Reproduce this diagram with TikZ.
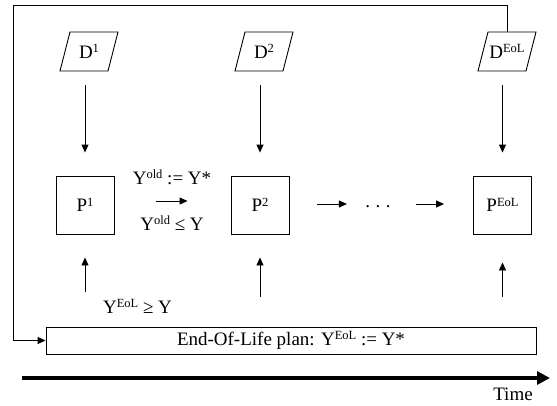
\documentclass[tikz,border=0pt]{standalone}
\usepackage{fontspec}
\setmainfont{Liberation Serif}
\usetikzlibrary{arrows.meta,calc}
\newcommand\supx[1]{\raisebox{5.5pt}{\fontsize{12.5}{13}\selectfont #1}}
\begin{document}
\begin{tikzpicture}[x=1pt,y=-1pt,
  font=\fontsize{19}{22}\selectfont,
  line width=0.9pt,
  arr/.style={-{Triangle[length=8pt,width=7pt]}},
  pbox/.style={draw, minimum width=58pt, minimum height=58pt, inner sep=0pt},
  dnode/.style={minimum width=58pt, minimum height=39pt, inner sep=0pt},
  planbox/.style={draw, minimum width=490pt, minimum height=27pt, inner sep=0pt},
  lbl/.style={anchor=base, inner sep=0pt}]
\useasboundingbox (0,0) rectangle (557,405);

\newcommand\dpara[1]{\draw ([shift={(-19,-19.5)}]#1.center) -- ++(48,0) -- ++(-10,39) -- ++(-48,0) -- cycle;}

% data nodes
\node[dnode] (d1) at (89,51.5) {D\supx{1}};
\node[dnode] (d2) at (264,51.5) {D\supx{2}};
\node[dnode] (de) at (507,51.5) {D\supx{EoL}};
\dpara{d1}
\dpara{d2}
\dpara{de}

% planning nodes
\node[pbox] (p1) at (85,205) {P\supx{1}};
\node[pbox] (p2) at (260,205) {P\supx{2}};
\node[pbox] (pe) at (502.5,205) {P\supx{EoL}};
\node[lbl] (dots) at (378,207) {.\kern5.5pt.\kern5.5pt.};

% EoL plan
\node[planbox] (plan) at (291,340.5) {End-Of-Life plan: Y\supx{EoL} := Y*};

% labels
\node[lbl] (l1) at (172,184.3) {Y\supx{old} := Y*};
\node[lbl] (l2) at (172,230) {Y\supx{old} ≤ Y};
\node[lbl] (l3) at (137.5,313) {Y\supx{EoL} ≥ Y};
\node[lbl] (tl) at (513,400) {Time};

% D -> P arrows
\draw[arr, shorten <=14pt, shorten >=23pt] (d1.south -| p1.center) -- (p1.north);
\draw[arr, shorten <=14pt, shorten >=23pt] (d2.south -| p2.center) -- (p2.north);
\draw[arr, shorten <=14pt, shorten >=23pt] (de.south -| pe.center) -- (pe.north);

% P -> P arrows
\draw[arr, shorten <=42pt, shorten >=43pt] ([yshift=4pt]p1.east) -- ([yshift=4pt]p2.west);
\draw[arr, shorten <=28pt, shorten >=18pt] ([yshift=1pt]p2.east) -- ([yshift=1pt]p2.east -| dots.west);
\draw[arr, shorten <=25pt, shorten >=29pt] ([yshift=1pt]pe.west -| dots.east) -- ([yshift=1pt]pe.west);

% plan -> P arrows
\draw[arr, shorten <=35pt, shorten >=23pt] (plan.north -| p1.center) -- (p1.south);
\draw[arr, shorten <=30pt, shorten >=23pt] (plan.north -| p2.center) -- (p2.south);
\draw[arr, shorten <=30pt, shorten >=28pt] (plan.north -| pe.center) -- (pe.south);

% feedback loop
\coordinate (corner) at (13,5);
\draw[arr] ([yshift=19.5pt]de.center) |- (corner) |- (plan.west);

% time axis
\coordinate (t0) at (22,378);
\coordinate (t1) at (550,378);
\draw[line width=4pt, -{Triangle[length=13pt,width=13pt]}] (t0) -- (t1);
\end{tikzpicture}
\end{document}
